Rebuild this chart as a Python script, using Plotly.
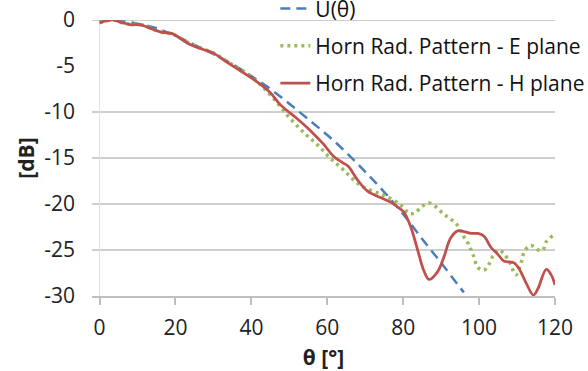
import plotly.graph_objects as go

# ---- data ----
theta_u = [0, 5, 10, 15, 20, 25, 30, 35, 40, 45, 50, 55, 60, 65, 70, 75, 80, 85, 90, 95, 96]
u_db = [0, -0.1, -0.4, -0.9, -1.7, -2.7, -3.7, -4.8, -6.1, -7.5, -9.1, -10.8, -12.5,
        -14.4, -16.5, -18.7, -21.1, -23.8, -26.4, -29.1, -29.6]

theta_e = [0, 3.5, 6, 8, 11, 14, 17, 19, 21, 24, 27, 30, 34, 38, 42, 46, 50, 54, 57.5, 61,
           64.3, 68.8, 74, 77.5, 79.8, 81.5, 83, 84.6, 86.7, 88.6, 90.4, 92, 93.9, 95.7, 97,
           98.4, 99.7, 101.3, 102.8, 103.7, 105, 106.3, 108, 109.7, 111.2, 112, 113.7, 115.6,
           116.8, 117.7, 119.5, 120]
e_db = [-0.3, 0.0, -0.3, -0.45, -0.5, -1.0, -1.4, -1.5, -1.9, -2.6, -3.1, -3.6, -4.6, -5.6,
        -6.9, -8.6, -10.6, -12.3, -13.6, -15.1, -16.3, -18.0, -18.9, -19.6, -20.3, -21.0,
        -21.0, -20.4, -19.9, -20.3, -21.0, -21.5, -22.1, -23.4, -24.2, -25.5, -26.9, -27.2,
        -26.4, -25.6, -25.0, -25.3, -26.3, -27.7, -26.2, -25.1, -24.5, -25.0, -25.0, -24.1,
        -23.4, -23.2]

theta_h = [0, 3.5, 6, 8, 11, 14, 16.5, 19, 21.2, 24, 27.3, 30, 33.6, 37, 41.4, 45, 47.6, 52,
           55.5, 59, 61.6, 64, 65.5, 68, 70.6, 74, 76.7, 78.4, 80.2, 82, 83.8, 85.4, 86.8, 89,
           90.7, 92.5, 94.5, 96, 98, 99.7, 101.3, 103.1, 105, 106.5, 108, 109.2, 110.5, 112.4,
           114.3, 115.5, 117.7, 119, 120]
h_db = [-0.3, 0.0, -0.3, -0.5, -0.55, -1.0, -1.35, -1.45, -2.0, -2.7, -3.2, -3.6, -4.6, -5.5,
        -6.7, -7.9, -9.2, -10.7, -12.0, -13.5, -14.8, -15.5, -15.9, -17.4, -18.6, -19.3, -19.8,
        -20.3, -20.9, -22.5, -25.0, -27.2, -28.2, -27.4, -25.8, -23.7, -22.9, -23.0, -23.2,
        -23.2, -23.5, -24.7, -25.5, -26.2, -26.3, -26.4, -27.0, -28.6, -29.9, -29.2, -27.1,
        -27.7, -28.8]

series_names = ["U(θ)", "Horn Rad. Pattern - E plane", "Horn Rad. Pattern - H plane"]
x_ticks = [0, 20, 40, 60, 80, 100, 120]
y_ticks = [0, -5, -10, -15, -20, -25, -30]
y_ticktext = ["0", "-5", "-10", "-15", "-20", "-25", "-30"]
grid_levels = [0, -10, -15, -20, -25]

FONT = "Open Sans"

fig = go.Figure()
fig.add_trace(go.Scatter(x=theta_u, y=u_db, name=series_names[0], mode="lines",
                         line=dict(color="#4A7EBB", width=2.5, dash="10px,6px", shape="spline"),
                         legendgroup="a"))
fig.add_trace(go.Scatter(x=theta_e, y=e_db, name=series_names[1], mode="lines",
                         line=dict(color="#9BBB59", width=3.5, dash="3px,4px", shape="spline"),
                         legendgroup="b"))
fig.add_trace(go.Scatter(x=theta_h, y=h_db, name=series_names[2], mode="lines",
                         line=dict(color="#C0504D", width=2.75, shape="spline"),
                         legendgroup="c"))

for g in grid_levels:
    fig.add_shape(type="line", xref="paper", yref="y", x0=0, x1=1, y0=g, y1=g,
                  line=dict(color="#BFBFBF", width=1.5), layer="below")

fig.update_layout(
    width=588, height=371,
    margin=dict(l=92, r=33, t=20, b=75, autoexpand=False),
    paper_bgcolor="white", plot_bgcolor="white",
    font=dict(family=FONT, size=21, color="#222222"),
    showlegend=True,
    legend=dict(x=0.396, y=1.115, xanchor="left", yanchor="top",
                bgcolor="rgba(0,0,0,0)", borderwidth=0,
                font=dict(family=FONT, size=21, color="#111111"),
                tracegroupgap=7, traceorder="grouped"),
    xaxis=dict(range=[-2, 120], tickvals=x_ticks, showgrid=False,
               ticks="outside", ticklen=7, tickcolor="#BFBFBF", tickwidth=1.5,
               showline=True, linecolor="#BFBFBF", linewidth=1.5,
               zeroline=True, zerolinecolor="#E0E0E0", zerolinewidth=1,
               ticklabelstandoff=5,
               title=dict(text="<b>θ [°]</b>", font=dict(family=FONT, size=21), standoff=11)),
    yaxis=dict(range=[-30, 0], tickvals=y_ticks, ticktext=y_ticktext, showgrid=False,
               zeroline=False, showline=False, ticks="", ticklabelstandoff=16,
               title=dict(text="<b>[dB]</b>", font=dict(family=FONT, size=21), standoff=3)),
)

fig.write_html("out.html")
